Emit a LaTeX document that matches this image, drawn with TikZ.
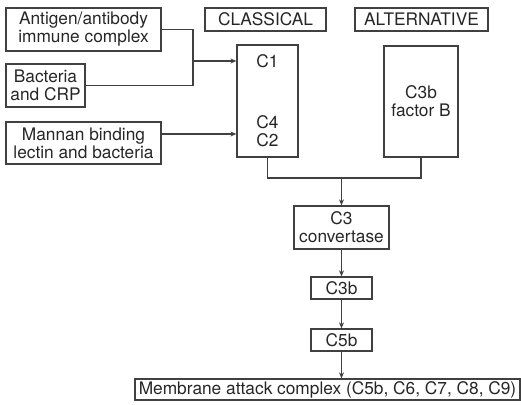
\documentclass[tikz,border=0pt]{standalone}
\usepackage{fontspec}
\setmainfont{TeX Gyre Heros}
\usetikzlibrary{arrows.meta}
\begin{document}
\begin{tikzpicture}[x=1pt,y=-1pt,
  every node/.style={font=\fontsize{17.3}{18}\selectfont, text=black!85},
  box/.style={draw=black!75, line width=1.3pt, inner sep=0pt, align=center},
  lbl/.style={inner sep=0pt, align=center},
  conn/.style={draw=black!75, line width=1.3pt},
  arr/.style={conn, -{Stealth[length=6pt,width=5pt]}}]
\useasboundingbox (0,0) rectangle (521,404);
% source boxes
\node[box, minimum width=155pt, minimum height=43pt] (ant) at (83.5,29.5) {Antigen/antibody\\immune complex};
\node[box, minimum width=79pt, minimum height=43pt] (bac) at (45.5,85.5) {Bacteria\\and CRP};
\node[box, minimum width=155pt, minimum height=42pt] (man) at (83.5,143) {Mannan binding\\lectin and bacteria};
% pathway labels
\node[box, minimum width=121pt, minimum height=23pt] (clsl) at (265.5,19.5) {CLASSICAL};
\node[box, minimum width=133pt, minimum height=23pt] (altl) at (421.5,19.5) {ALTERNATIVE};
% pathway boxes
\node[box, minimum width=61pt, minimum height=112pt] (cls) at (267.5,101) {};
\node[lbl] (c1) at (267.5,61) {C1};
\node[lbl] (c42) at (267.5,131.5) {C4\\C2};
\node[box, minimum width=74pt, minimum height=111pt] (alt) at (421,101.5) {C3b\\factor B};
% cascade
\node[box, minimum width=95pt, minimum height=43pt] (c3) at (341.5,227.5) {C3\\convertase};
\node[box, minimum width=61pt, minimum height=22pt] (c3b) at (341.5,288) {C3b};
\node[box, minimum width=61pt, minimum height=22pt] (c5b) at (341.5,340) {C5b};
\node[box, minimum width=385pt, minimum height=21pt] (mac) at (327.5,389.5) {Membrane attack complex (C5b, C6, C7, C8, C9)};
% connectors
\coordinate (j1) at (193,61);
\coordinate (j2) at (341.5,178);
\draw[conn] (ant.east) -- (ant.east -| j1) -- (bac.east -| j1) -- (bac.east);
\draw[arr] (j1) -- (j1 -| cls.west);
\draw[arr] ([yshift=9pt]man.east) -- ([yshift=9pt]man.east -| cls.west);
\draw[conn] (cls.south) -- (cls.south |- j2) -- (alt.south |- j2) -- (alt.south);
\draw[arr] (j2) -- (c3.north);
\draw[arr] (c3.south) -- (c3b.north);
\draw[arr] (c3b.south) -- (c5b.north);
\draw[arr] (c5b.south) -- (c5b.south |- mac.north);
\end{tikzpicture}
\end{document}
